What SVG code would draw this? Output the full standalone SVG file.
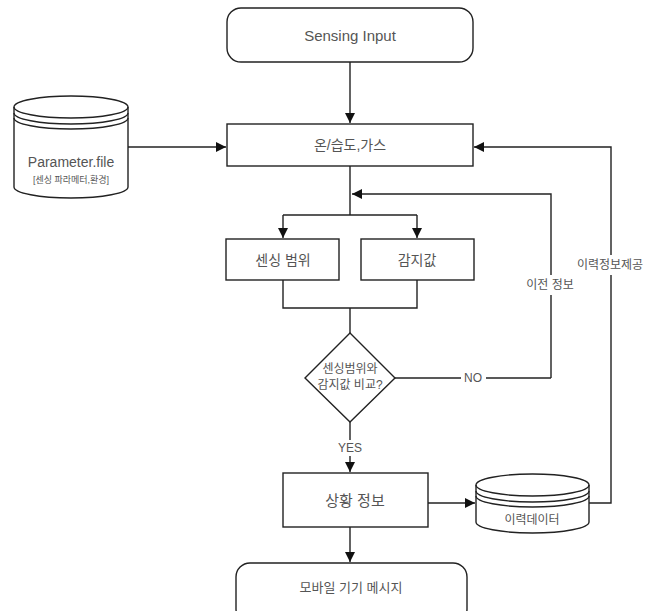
<svg xmlns="http://www.w3.org/2000/svg" width="661" height="611" viewBox="0 0 661 611">
<style>
.s{fill:#fff;stroke:#222;stroke-width:1.4}
.c{fill:none;stroke:#222;stroke-width:1.4}
.t{font-family:"Liberation Sans","Noto Sans CJK KR",sans-serif;fill:#555;text-anchor:middle;dominant-baseline:central}
.lb{font-family:"Liberation Sans","Noto Sans CJK KR",sans-serif;fill:#555;text-anchor:middle;dominant-baseline:central;font-size:12px}
</style>
<defs>
<marker id="ah" viewBox="0 0 10 10" refX="10" refY="5" markerWidth="10" markerHeight="10" markerUnits="userSpaceOnUse" orient="auto">
<path d="M0,0 L10,5 L0,10 Z" fill="#111"/>
</marker>
</defs>
<rect width="661" height="611" fill="#fff"/>
<g id="connectors">
<path class="c" d="M350,62 V123" marker-end="url(#ah)"/>
<path class="c" d="M128,147 H226" marker-end="url(#ah)"/>
<path class="c" d="M350,166 V215"/>
<path class="c" d="M283,215 H417"/>
<path class="c" d="M283,215 V238" marker-end="url(#ah)"/>
<path class="c" d="M417,215 V238" marker-end="url(#ah)"/>
<path class="c" d="M551,378 V194 H352" marker-end="url(#ah)"/>
<path class="c" d="M394,378 H551"/>
<path class="c" d="M283,280 V308 H417 V280"/>
<path class="c" d="M350,308 V333"/>
<path class="c" d="M350,422 V472" marker-end="url(#ah)"/>
<path class="c" d="M428,503 H475" marker-end="url(#ah)"/>
<path class="c" d="M589,503 H611 V147 H474" marker-end="url(#ah)"/>
<path class="c" d="M350,527 V562" marker-end="url(#ah)"/>
<rect x="461" y="370" width="25" height="16" fill="#fff"/>
<text class="lb" x="473" y="378">NO</text>
<rect x="518" y="275" width="66" height="20" fill="#fff"/>
<text class="lb" x="550" y="285" font-size="13">이전 정보</text>
<rect x="569" y="255" width="84" height="20" fill="#fff"/>
<text class="lb" x="610" y="265" font-size="13">이력정보제공</text>
<rect x="336" y="440" width="28" height="16" fill="#fff"/>
<text class="lb" x="350" y="448">YES</text>
</g>
<g id="sensing-input">
<rect class="s" x="227" y="8" width="246" height="54" rx="14"/>
<text class="t" x="350" y="35" font-size="15">Sensing Input</text>
</g>
<g id="param-file">
<path class="s" d="M14,107 A57,11 0 0 1 128,107 V187 A57,11 0 0 1 14,187 Z"/>
<path class="c" d="M14,107 A57,11 0 0 0 128,107"/>
<path class="c" d="M14,113 A57,11 0 0 0 128,113"/>
<path class="c" d="M14,118 A57,11 0 0 0 128,118"/>
<text class="t" x="71" y="162" font-size="14">Parameter.file</text>
<text class="t" x="71" y="180" font-size="9">[센싱 파라메터,환경]</text>
</g>
<g id="temp-humid-gas">
<rect class="s" x="227" y="124" width="246" height="42"/>
<text class="t" x="350" y="145" font-size="14">온/습도,가스</text>
</g>
<g id="sensing-range">
<rect class="s" x="226" y="239" width="113" height="41"/>
<text class="t" x="283" y="260" font-size="14">센싱 범위</text>
</g>
<g id="detect-value">
<rect class="s" x="361" y="239" width="113" height="41"/>
<text class="t" x="417" y="260" font-size="14">감지값</text>
</g>
<g id="compare">
<path class="s" d="M350,333 L395,378 L350,422 L305,378 Z"/>
<text class="t" x="350" y="369" font-size="12">센싱범위와</text>
<text class="t" x="350" y="385" font-size="12">감지값 비교?</text>
</g>
<g id="situation-info">
<rect class="s" x="283" y="473" width="145" height="54"/>
<text class="t" x="355" y="500" font-size="15">상황 정보</text>
</g>
<g id="history-data">
<path class="s" d="M476,485 A56.5,11 0 0 1 589,485 V522 A56.5,11 0 0 1 476,522 Z"/>
<path class="c" d="M476,485 A56.5,11 0 0 0 589,485"/>
<path class="c" d="M476,491 A56.5,11 0 0 0 589,491"/>
<path class="c" d="M476,496 A56.5,11 0 0 0 589,496"/>
<text class="t" x="532" y="520" font-size="12">이력데이터</text>
</g>
<g id="mobile-message">
<rect class="s" x="236" y="563" width="231" height="60" rx="14"/>
<text class="t" x="351" y="587" font-size="13">모바일 기기 메시지</text>
</g>
</svg>
